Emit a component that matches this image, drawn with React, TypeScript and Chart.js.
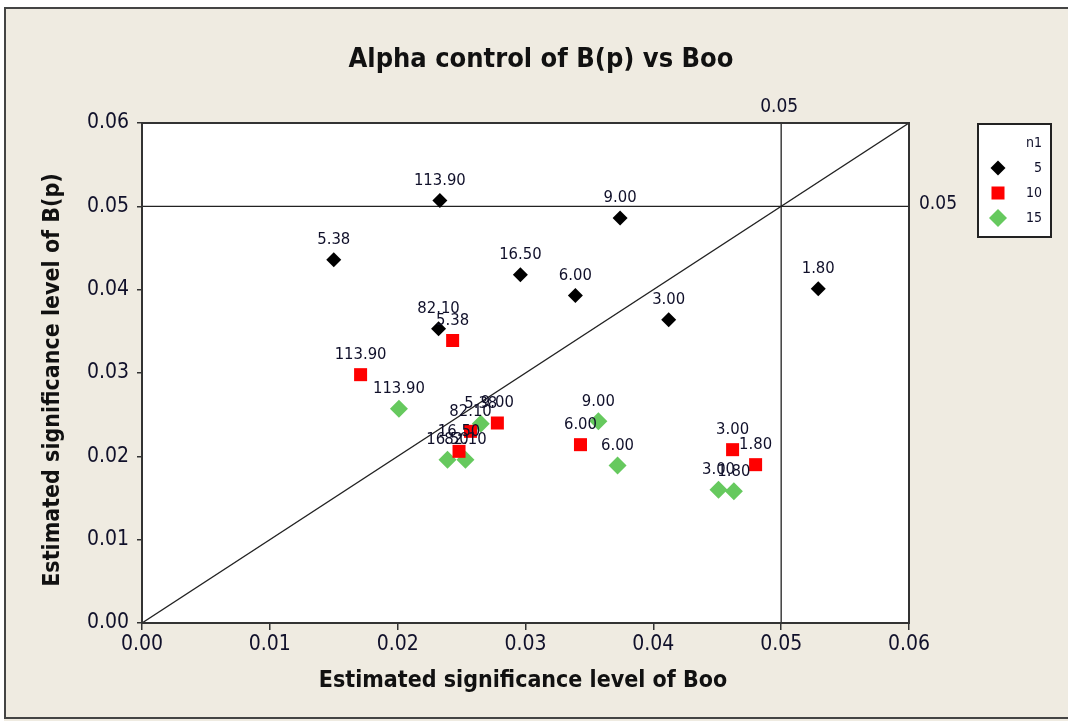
import React, { useEffect, useRef } from 'react';
import { Chart, registerables } from 'chart.js';

Chart.register(...registerables);

const FONT = '"DejaVu Sans Condensed", "DejaVu Sans", sans-serif';

const TITLE = 'Alpha control of B(p) vs Boo';
const X_TITLE = 'Estimated significance level of Boo';
const Y_TITLE = 'Estimated significance level of B(p)';
const LEGEND_TITLE = 'n1';

const tickValues = [0, 0.01, 0.02, 0.03, 0.04, 0.05, 0.06];
const refLevel = 0.05;

const groups = ['5', '10', '15'];

const labels5 = ['5.38', '113.90', '82.10', '16.50', '6.00', '9.00', '3.00', '1.80'];
const x5 = [0.0150, 0.0233, 0.0232, 0.0296, 0.0339, 0.0374, 0.0412, 0.0529];
const y5 = [0.0436, 0.0507, 0.0353, 0.0418, 0.0393, 0.0486, 0.0364, 0.0401];

const labels10 = ['113.90', '5.38', '82.10', '16.50', '9.00', '6.00', '3.00', '1.80'];
const x10 = [0.0171, 0.0243, 0.0257, 0.0248, 0.0278, 0.0343, 0.0462, 0.0480];
const y10 = [0.0298, 0.0339, 0.0230, 0.0206, 0.0240, 0.0214, 0.0208, 0.0190];

const labels15 = ['113.90', '16.50', '82.10', '5.38', '9.00', '6.00', '3.00', '1.80'];
const x15 = [0.0201, 0.0239, 0.0253, 0.0265, 0.0357, 0.0372, 0.0451, 0.0463];
const y15 = [0.0257, 0.0196, 0.0196, 0.0239, 0.0242, 0.0189, 0.0160, 0.0158];

const toPoints = (xs: number[], ys: number[]) => xs.map((x, i) => ({ x, y: ys[i] }));

const BEIGE = '#EFEBE1';
const TEXT = '#10102a';

const decorPlugin = {
  id: 'decor',
  beforeDraw(chart: any) {
    const { ctx, width, height, chartArea } = chart;
    ctx.save();
    ctx.fillStyle = '#ffffff';
    ctx.fillRect(0, 0, width, height);
    ctx.fillStyle = BEIGE;
    ctx.fillRect(4, 7, width - 4, height - 7);
    ctx.strokeStyle = '#444';
    ctx.lineWidth = 2;
    ctx.strokeRect(5, 8, width + 10, height - 11);
    ctx.fillStyle = '#ffffff';
    ctx.fillRect(chartArea.left, chartArea.top, chartArea.right - chartArea.left, chartArea.bottom - chartArea.top);
    ctx.restore();
  },
  afterDatasetsDraw(chart: any) {
    const { ctx, chartArea } = chart;
    const xs = chart.scales.x;
    const ys = chart.scales.y;
    ctx.save();
    // point labels
    ctx.font = `16.5px ${FONT}`;
    ctx.fillStyle = TEXT;
    ctx.textAlign = 'center';
    ctx.textBaseline = 'middle';
    chart.data.datasets.forEach((ds: any, di: number) => {
      if (!ds.pointLabels) return;
      const meta = chart.getDatasetMeta(di);
      meta.data.forEach((el: any, i: number) => {
        ctx.fillText(ds.pointLabels[i], el.x, el.y - 20);
      });
    });
    // plot border
    ctx.strokeStyle = '#333';
    ctx.lineWidth = 2;
    ctx.strokeRect(chartArea.left, chartArea.top, chartArea.right - chartArea.left, chartArea.bottom - chartArea.top);
    // reference labels
    ctx.font = `19px ${FONT}`;
    ctx.fillStyle = TEXT;
    ctx.textAlign = 'center';
    ctx.fillText(refLevel.toFixed(2), xs.getPixelForValue(refLevel) - 2, chartArea.top - 16);
    ctx.textAlign = 'left';
    ctx.fillText(refLevel.toFixed(2), chartArea.right + 10, ys.getPixelForValue(refLevel) - 2);
    // title
    ctx.font = `bold 27px ${FONT}`;
    ctx.fillStyle = '#111';
    ctx.textAlign = 'center';
    ctx.fillText(TITLE, 541, 60);
    // axis titles
    ctx.font = `bold 23px ${FONT}`;
    ctx.fillText(X_TITLE, 523, 681);
    ctx.save();
    ctx.translate(53, 380);
    ctx.rotate(-Math.PI / 2);
    ctx.fillText(Y_TITLE, 0, 0);
    ctx.restore();
    // legend
    const lx = 978, ly = 124, lw = 73, lh = 113;
    ctx.fillStyle = '#ffffff';
    ctx.fillRect(lx, ly, lw, lh);
    ctx.strokeStyle = '#222';
    ctx.lineWidth = 2;
    ctx.strokeRect(lx, ly, lw, lh);
    ctx.font = `14px ${FONT}`;
    ctx.fillStyle = TEXT;
    ctx.textAlign = 'right';
    ctx.fillText(LEGEND_TITLE, 1042, 143);
    const rows = [168, 193, 218];
    chart.data.datasets.filter((d: any) => d.pointLabels).forEach((ds: any, i: number) => {
      const cy = rows[i];
      const cx = 998;
      ctx.fillStyle = ds.backgroundColor;
      const r = ds.pointRadius;
      ctx.beginPath();
      if (ds.pointStyle === 'rect') {
        const h = r * Math.SQRT1_2;
        ctx.rect(cx - h, cy - h, 2 * h, 2 * h);
      } else {
        ctx.moveTo(cx, cy - r);
        ctx.lineTo(cx + r, cy);
        ctx.lineTo(cx, cy + r);
        ctx.lineTo(cx - r, cy);
        ctx.closePath();
      }
      ctx.fill();
      ctx.fillStyle = TEXT;
      ctx.fillText(groups[i], 1042, cy);
    });
    ctx.restore();
  },
};

export default function App() {
  const ref = useRef<HTMLCanvasElement | null>(null);
  useEffect(() => {
    document.body.style.margin = '0';
    const canvas = ref.current!;
    const lineStyle = {
      showLine: true,
      pointRadius: 0,
      borderColor: '#222',
      borderWidth: 1.3,
      backgroundColor: '#222',
      order: 10,
    };
    const chart = new Chart(canvas, {
      type: 'scatter',
      data: {
        datasets: [
          {
            label: groups[0],
            data: toPoints(x5, y5),
            pointLabels: labels5,
            pointStyle: 'rectRot',
            pointRadius: 7.5,
            backgroundColor: '#000000',
            borderColor: '#000000',
            borderWidth: 0,
            order: 1,
          } as any,
          {
            label: groups[1],
            data: toPoints(x10, y10),
            pointLabels: labels10,
            pointStyle: 'rect',
            pointRadius: 9.2,
            backgroundColor: '#FF0000',
            borderColor: '#FF0000',
            borderWidth: 0,
            order: 2,
          } as any,
          {
            label: groups[2],
            data: toPoints(x15, y15),
            pointLabels: labels15,
            pointStyle: 'rectRot',
            pointRadius: 9,
            backgroundColor: '#66C95E',
            borderColor: '#66C95E',
            borderWidth: 0,
            order: 3,
          } as any,
          { label: 'diag', data: [{ x: tickValues[0], y: tickValues[0] }, { x: tickValues[6], y: tickValues[6] }], ...lineStyle } as any,
          { label: 'h', data: [{ x: tickValues[0], y: refLevel }, { x: tickValues[6], y: refLevel }], ...lineStyle } as any,
          { label: 'v', data: [{ x: refLevel, y: tickValues[0] }, { x: refLevel, y: tickValues[6] }], ...lineStyle } as any,
        ],
      },
      options: {
        animation: false,
        responsive: false,
        maintainAspectRatio: false,
        layout: { padding: { top: 123, right: 159, left: 0, bottom: 0 } },
        plugins: {
          legend: { display: false },
          tooltip: { enabled: false },
          title: { display: false },
        },
        scales: {
          x: {
            type: 'linear',
            min: 0,
            max: 0.06,
            afterFit: (s: any) => { s.height = 721 - 623; },
            afterBuildTicks: (s: any) => { s.ticks = tickValues.map((v) => ({ value: v })); },
            ticks: {
              callback: (v: any) => Number(v).toFixed(2),
              font: { family: FONT, size: 21 },
              color: TEXT,
              padding: 2,
              maxRotation: 0,
            },
            grid: { drawOnChartArea: false, drawTicks: true, tickLength: 7, color: '#333', lineWidth: 1.5 },
            border: { display: true, color: '#333', width: 2 },
          },
          y: {
            type: 'linear',
            min: 0,
            max: 0.06,
            afterFit: (s: any) => { s.width = 142; },
            afterBuildTicks: (s: any) => { s.ticks = tickValues.map((v) => ({ value: v })); },
            ticks: {
              callback: (v: any) => Number(v).toFixed(2),
              font: { family: FONT, size: 21 },
              color: TEXT,
              padding: 8,
            },
            grid: { drawOnChartArea: false, drawTicks: true, tickLength: 5, color: '#333', lineWidth: 1.5 },
            border: { display: true, color: '#333', width: 2 },
          },
        },
      },
      plugins: [decorPlugin],
    } as any);
    return () => chart.destroy();
  }, []);
  return (
    <div style={{ position: 'absolute', left: 0, top: 0, width: 1068, height: 721 }}>
      <canvas ref={ref} width={1068} height={721} style={{ width: 1068, height: 721, display: 'block' }} />
    </div>
  );
}
